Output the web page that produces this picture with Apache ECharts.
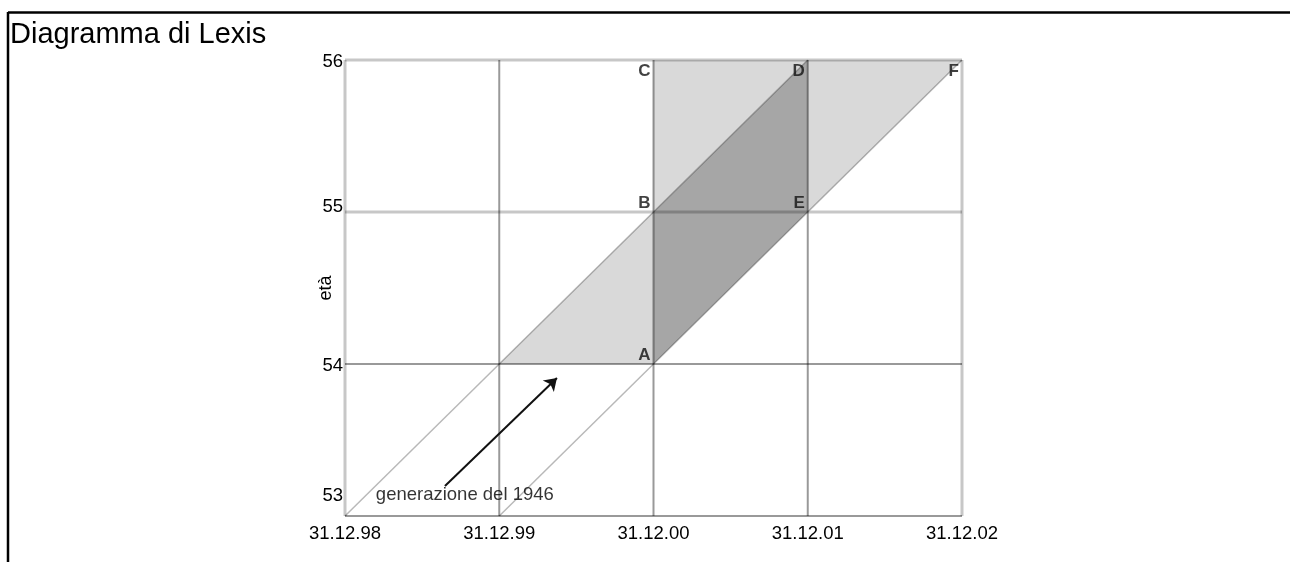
<!DOCTYPE html>
<html>
<head>
<meta charset="utf-8">
<script src="https://cdn.jsdelivr.net/npm/echarts@6/dist/echarts.min.js"></script>
<style>
html,body{margin:0;padding:0;background:#fff;}
#chart{width:1290px;height:562px;}
</style>
</head>
<body>
<div id="chart"></div>
<script>
// ---- data ----
const xTickLabels = ['31.12.98', '31.12.99', '31.12.00', '31.12.01', '31.12.02'];
const xTicks = [0, 1, 2, 3, 4];
const yTicks = [53, 54, 55, 56];
const lightPolygons = [
  [[1, 54], [2, 54], [2, 55]],
  [[2, 55], [2, 56], [3, 56]],
  [[3, 55], [3, 56], [4, 56]]
];
const darkPolygons = [
  [[2, 54], [3, 55], [3, 56], [2, 55]]
];
const lifelineA = [[0, 53], [3, 56]];
const lifelineB = [[1, 53], [4, 56]];
const pointNames = ['A', 'B', 'C', 'D', 'E', 'F'];
const pointX = [2, 2, 2, 3, 3, 4];
const pointY = [54, 55, 56, 56, 55, 56];
const arrowFrom = [0.648, 53.197];
const arrowTo = [1.374, 53.908];
const annotationText = 'generazione del 1946';
const annotationPos = [0.2, 53.138];
const titleText = 'Diagramma di Lexis';
const yName = 'età';

// ---- styles ----
const FONT = '"Liberation Sans", Arial, sans-serif';
const chart = echarts.init(document.getElementById('chart'), null, {renderer: 'canvas'});

const yLabelShift = {53: 'u20', 54: 'd2', 55: 'u5', 56: 'd2'};
const rich = {
  u20: {fontSize: 18.5, fontFamily: FONT, color: '#000', padding: [0, 0, 40, 0]},
  u5: {fontSize: 18.5, fontFamily: FONT, color: '#000', padding: [0, 0, 10, 0]},
  d2: {fontSize: 18.5, fontFamily: FONT, color: '#000', padding: [4, 0, 0, 0]}
};

function polySeries(polys, color, z) {
  return {
    type: 'custom',
    coordinateSystem: 'cartesian2d',
    z: z,
    clip: false,
    silent: true,
    data: polys.map((p, i) => [p[0][0], p[0][1], i]),
    renderItem: function (params, api) {
      const p = polys[params.dataIndex];
      return {
        type: 'polygon',
        shape: {points: p.map(pt => api.coord(pt))},
        style: {fill: color, stroke: null}
      };
    }
  };
}

// grid line styles: [colour, width]
function vStyle(v) {
  if (v === 0 || v === 4) return ['rgba(0,0,0,0.22)', 3];
  return ['rgba(0,0,0,0.4)', 2];
}
function hStyle(v) {
  if (v === 56 || v === 55) return ['rgba(0,0,0,0.22)', 3];
  return ['rgba(0,0,0,0.4)', 2];
}

const gridSeries = {
  type: 'custom',
  coordinateSystem: 'cartesian2d',
  z: 3,
  clip: false,
  silent: true,
  data: xTicks.map(v => [v, 53, 'v']).concat(yTicks.map(v => [0, v, 'h'])),
  renderItem: function (params, api) {
    const kind = params.dataIndex < xTicks.length ? 'v' : 'h';
    let p1, p2, st;
    if (kind === 'v') {
      const v = xTicks[params.dataIndex];
      p1 = api.coord([v, yTicks[0]]);
      p2 = api.coord([v, yTicks[yTicks.length - 1]]);
      st = vStyle(v);
    } else {
      const v = yTicks[params.dataIndex - xTicks.length];
      p1 = api.coord([xTicks[0], v]);
      p2 = api.coord([xTicks[xTicks.length - 1], v]);
      st = hStyle(v);
    }
    return {
      type: 'line',
      shape: {x1: p1[0], y1: p1[1], x2: p2[0], y2: p2[1]},
      style: {stroke: st[0], lineWidth: st[1]}
    };
  }
};

const option = {
  animation: false,
  backgroundColor: '#fff',
  title: {
    text: titleText,
    left: 10, top: 20, padding: 0,
    textStyle: {fontFamily: FONT, fontSize: 29, fontWeight: 'normal', color: '#000'}
  },
  graphic: [
    {type: 'line', shape: {x1: 8, y1: 12.5, x2: 1290, y2: 12.5}, style: {stroke: '#000', lineWidth: 2.5}},
    {type: 'line', shape: {x1: 8, y1: 12, x2: 8, y2: 562}, style: {stroke: '#000', lineWidth: 2.5}}
  ],
  grid: {left: 345, right: 328, top: 60, bottom: 46, containLabel: false},
  xAxis: {
    type: 'value', min: 0, max: 4, interval: 1,
    axisLine: {show: false}, axisTick: {show: false}, splitLine: {show: false},
    axisLabel: {
      margin: 8,
      fontFamily: FONT, fontSize: 18.5, color: '#000',
      formatter: v => xTickLabels[Math.round(v)]
    }
  },
  yAxis: {
    type: 'value', min: 53, max: 56, interval: 1,
    name: yName, nameLocation: 'middle', nameRotate: 90, nameGap: 10,
    nameMoveOverlap: false,
    nameTextStyle: {fontFamily: FONT, fontSize: 18, color: '#000'},
    axisLine: {show: false}, axisTick: {show: false}, splitLine: {show: false},
    axisLabel: {
      margin: 2,
      fontFamily: FONT, fontSize: 18.5, color: '#000',
      formatter: v => '{' + yLabelShift[Math.round(v)] + '|' + Math.round(v) + '}',
      rich: rich
    }
  },
  series: [
    polySeries(lightPolygons, '#d9d9d9', 1),
    polySeries(darkPolygons, '#a6a6a6', 2),
    gridSeries,
    {
      type: 'line', data: lifelineA, symbol: 'none', z: 4, silent: true,
      lineStyle: {color: 'rgba(0,0,0,0.28)', width: 1.5}
    },
    {
      type: 'line', data: lifelineB, symbol: 'none', z: 4, silent: true,
      lineStyle: {color: 'rgba(0,0,0,0.28)', width: 1.5}
    },
    {
      type: 'lines', coordinateSystem: 'cartesian2d', z: 5, silent: true,
      symbol: ['none', 'arrow'], symbolSize: 12,
      lineStyle: {color: '#111', width: 2, opacity: 1},
      data: [{coords: [arrowFrom, arrowTo]}]
    },
    {
      type: 'scatter', z: 6, silent: true,
      symbolSize: 0, itemStyle: {color: '#000'},
      data: pointNames.map((n, i) => ({
        value: [pointX[i], pointY[i]],
        label: {
          show: true, formatter: n, position: 'left', distance: 3,
          offset: [0, pointY[i] === 56 ? 11 : -9],
          fontFamily: FONT, fontSize: 17, fontWeight: 'bold', color: '#111'
        }
      }))
    },
    {
      type: 'scatter', z: 6, silent: true,
      symbolSize: 0, itemStyle: {color: '#000'},
      data: [{
        value: annotationPos,
        label: {
          show: true, formatter: annotationText, position: 'right', distance: 0,
          fontFamily: FONT, fontSize: 18.5, color: '#000'
        }
      }]
    }
  ]
};
chart.setOption(option);
</script>
</body>
</html>
